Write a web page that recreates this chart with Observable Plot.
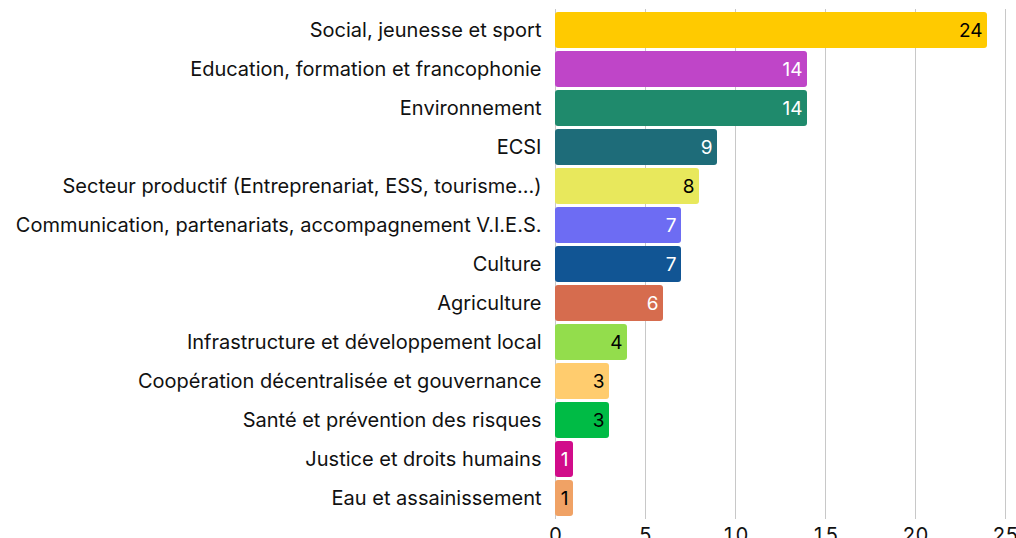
<!DOCTYPE html>
<html>
<head>
<meta charset="utf-8">
<script src="https://cdn.jsdelivr.net/npm/d3@7"></script>
<script src="https://cdn.jsdelivr.net/npm/@observablehq/plot@0.6"></script>
<style>
  html, body { margin: 0; padding: 0; background: #fff; overflow: hidden; }
  #chart svg { display: block; }
</style>
</head>
<body>
<div id="chart"></div>
<script>
const categories = [
  "Social, jeunesse et sport",
  "Education, formation et francophonie",
  "Environnement",
  "ECSI",
  "Secteur productif (Entreprenariat, ESS, tourisme...)",
  "Communication, partenariats, accompagnement V.I.E.S.",
  "Culture",
  "Agriculture",
  "Infrastructure et développement local",
  "Coopération décentralisée et gouvernance",
  "Santé et prévention des risques",
  "Justice et droits humains",
  "Eau et assainissement"
];
const values = [24, 14, 14, 9, 8, 7, 7, 6, 4, 3, 3, 1, 1];
const colors = ["#FFCA00", "#BF45C8", "#1F8A6C", "#1E6C79", "#E8E85C", "#6D6CF3", "#115594", "#D66C4E", "#93DD4C", "#FFCC6E", "#00BB45", "#D10C8A", "#F0A265"];
const labelColors = ["#000", "#fff", "#fff", "#fff", "#000", "#fff", "#fff", "#fff", "#000", "#000", "#000", "#fff", "#000"];
const xTicks = [0, 5, 10, 15, 20, 25];

const data = categories.map((c, i) => ({category: c, value: values[i], color: colors[i], labelColor: labelColors[i]}));

const chart = Plot.plot({
  width: 1016,
  height: 560,
  marginLeft: 555,
  marginRight: 11,
  marginTop: 9,
  marginBottom: 41,
  style: {fontFamily: "Inter, sans-serif", fontSize: "20px", color: "#111", background: "#fff"},
  x: {domain: [0, 25], ticks: xTicks, label: null, tickSize: 0, tickPadding: 8, grid: false},
  y: {domain: categories, label: null, tickSize: 0, tickPadding: 14, paddingInner: 0.08, paddingOuter: 0.04},
  color: {type: "identity"},
  marks: [
    Plot.gridX(xTicks, {stroke: "#c8c8c8", strokeOpacity: 1, strokeWidth: 1}),
    Plot.barX(data, {x: "value", y: "category", fill: "color", rx: 3}),
    Plot.text(data, {x: "value", y: "category", text: d => String(d.value), fill: "labelColor", textAnchor: "end", dx: -5, fontSize: 19})
  ]
});
document.getElementById("chart").appendChild(chart);
</script>
</body>
</html>
